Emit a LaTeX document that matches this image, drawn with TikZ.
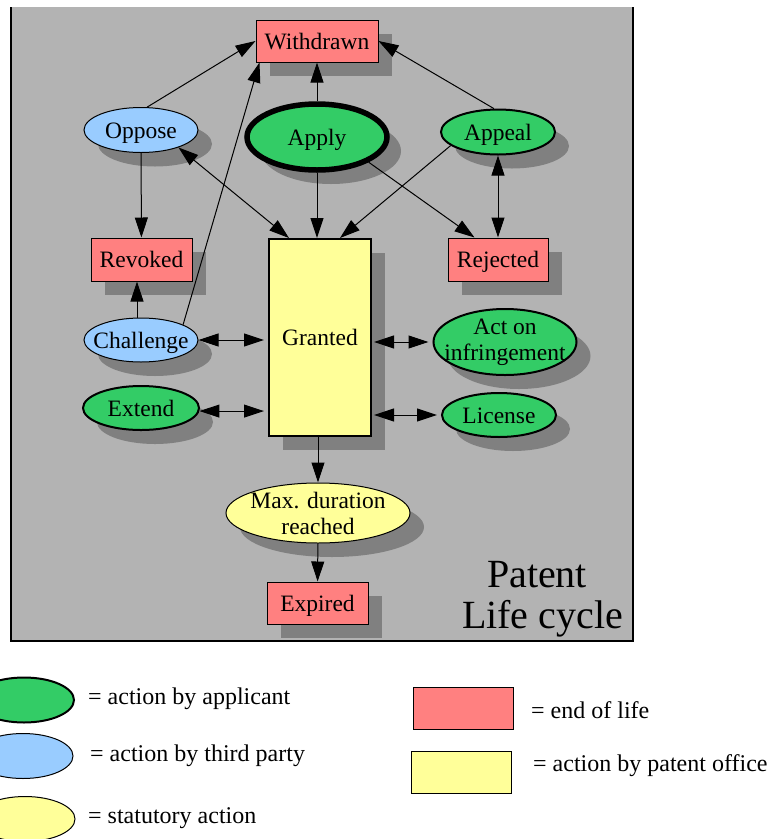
\documentclass[tikz,border=0pt]{standalone}
\usepackage{fontspec}
\setmainfont{Liberation Serif}
\usetikzlibrary{shapes.geometric,shadows,arrows.meta}

\definecolor{framegray}{HTML}{B3B3B3}
\definecolor{shadegray}{HTML}{808080}
\definecolor{endred}{HTML}{FF8080}
\definecolor{officeyellow}{HTML}{FFFF99}
\definecolor{appgreen}{HTML}{33CC66}
\definecolor{thirdblue}{HTML}{99CCFF}

\tikzset{
  stage/.style={rectangle, draw, line width=1pt, inner sep=0pt, text height=16pt, text depth=0pt, font=\fontsize{23.5}{26}\selectfont},
  endbox/.style={stage, fill=endred},
  officebox/.style={stage, fill=officeyellow},
  oval/.style={ellipse, draw, inner sep=0pt},
  applicant/.style={oval, fill=appgreen, line width=2pt},
  thirdparty/.style={oval, fill=thirdblue, line width=1pt},
  statutory/.style={oval, fill=officeyellow, line width=1pt},
  shadowed/.style={drop shadow={shadow xshift=14pt, shadow yshift=-14pt, opacity=1, fill=shadegray}},
  every label/.style={font=\fontsize{23.5}{26}\selectfont, inner sep=0pt, text height=16pt, text depth=0pt},
  twolines/.style={align=center, text height=, text depth=},
  arr/.style={line width=1pt, -{Triangle[length=20pt,width=13pt]}},
  darr/.style={line width=1pt, {Triangle[length=20pt,width=13pt]}-{Triangle[length=20pt,width=13pt]}},
  keytext/.style={font=\fontsize{24}{26}\selectfont, inner sep=0pt, anchor=base west}
}

\begin{document}
\begin{tikzpicture}[x=1pt,y=-1pt]
	\useasboundingbox (0,0) rectangle (770,839);
	\clip (0,0) rectangle (770,839);
	% frame
	\fill [framegray] (11,7) rectangle (633,641);
	\draw [line width=2pt] (11,7) -- (11,641) -- (633,641) -- (633,7);

	% stages
	\node [endbox, shadowed, minimum width=122, minimum height=42] (withdrawn) at (317,41) {Withdrawn};
	\node [applicant, shadowed, line width=5.5pt, minimum width=140, minimum height=66, label=center:Apply] (apply) at (317,137) {};
	\node [thirdparty, shadowed, minimum width=114, minimum height=45, label=center:Oppose] (oppose) at (141,130) {};
	\node [applicant, shadowed, minimum width=114, minimum height=45, label=center:Appeal] (appeal) at (498,132) {};
	\node [endbox, shadowed, minimum width=101, minimum height=43] (revoked) at (141.5,259.5) {Revoked};
	\node [officebox, shadowed, line width=2pt, minimum width=102, minimum height=197] (granted) at (320,337.5) {Granted};
	\node [endbox, shadowed, minimum width=100, minimum height=43] (rejected) at (498,259.5) {Rejected};
	\node [thirdparty, shadowed, minimum width=114, minimum height=44, label=center:Challenge] (challenge) at (141,340) {};
	\node [applicant, shadowed, minimum width=116, minimum height=44, label=center:Extend] (extend) at (141,408) {};
	\node [applicant, shadowed, minimum width=143, minimum height=66, label={[twolines]center:Act on\\infringement}] (act) at (505,342) {};
	\node [applicant, shadowed, minimum width=114, minimum height=44, label=center:License] (license) at (499,415) {};
	\node [statutory, shadowed, minimum width=184, minimum height=60, label={[twolines]center:Max. duration\\reached}] (maxdur) at (318,513) {};
	\node [endbox, shadowed, minimum width=101, minimum height=42] (expired) at (317.5,603) {Expired};

	\node [font=\fontsize{40}{41}\selectfont, anchor=base, inner sep=0pt] (patent) at (537,587) {Patent};
	\node [font=\fontsize{40}{41}\selectfont, anchor=base, inner sep=0pt] (lifecycle) at (542.5,628) {Life cycle};

	% transitions
	\draw [arr] (apply) -- (withdrawn);
	\draw [arr] (oppose.75) -- (withdrawn.west);
	\draw [arr] (appeal.100) -- (withdrawn.east);
	\draw [arr] (challenge.20) -- ([xshift=4pt]withdrawn.south west);
	\draw [darr] (oppose.-25) -- ([xshift=21pt]granted.north west);
	\draw [arr] (apply.south) -- (apply.south |- granted.north);
	\draw [arr] (appeal.196) -- ([xshift=20pt]granted.north);
	\draw [arr] (apply.-26) -- ([xshift=27pt]rejected.north west);
	\draw [darr] (appeal) -- (rejected);
	\draw [arr] (oppose) -- (revoked);
	\draw [arr] ([xshift=-4pt]challenge.north) -- ([xshift=-4.5pt]revoked.south);
	\draw [darr] (challenge.east) -- ([xshift=-4pt]challenge.east -| granted.west);
	\draw [darr] (extend.-3) -- ([xshift=-4pt]extend.-3 -| granted.west);
	\draw [darr] ([xshift=2pt]act.west -| granted.east) -- ([xshift=-4pt]act.west);
	\draw [darr] ([xshift=2pt]license.west -| granted.east) -- ([xshift=-4pt]license.west);
	\draw [arr] (maxdur.north |- granted.south) -- (maxdur.north);
	\draw [arr] (maxdur) -- (expired);

	% legend
	\node [applicant, minimum width=100, minimum height=45] (keyapplicant) at (24,700) {};
	\node [thirdparty, minimum width=100, minimum height=45] (keythird) at (23,756) {};
	\node [statutory, minimum width=100, minimum height=45] (keystatutory) at (25,819) {};
	\node [endbox, minimum width=100, minimum height=42] (keyend) at (463,708) {};
	\node [officebox, minimum width=100, minimum height=42] (keyoffice) at (461,772) {};
	\node [keytext] (keyapplicanttext) at (88,704) {= action by applicant};
	\node [keytext] (keythirdtext) at (90,761) {= action by third party};
	\node [keytext] (keystatutorytext) at (88,823) {= statutory action};
	\node [keytext] (keyendtext) at (531,718) {= end of life};
	\node [keytext] (keyofficetext) at (533,771) {= action by patent office};
\end{tikzpicture}
\end{document}
